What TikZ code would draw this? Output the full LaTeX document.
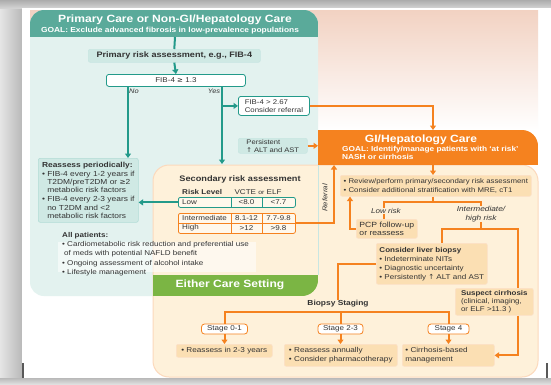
\documentclass[tikz,border=0pt]{standalone}
\usepackage{fontspec}
\setmainfont{Liberation Sans}[FakeStretch=1.15]
\newfontfamily\dv{DejaVu Sans}
\usetikzlibrary{arrows.meta}
\definecolor{tealhead}{HTML}{5AAA9A}
\definecolor{tealbody}{HTML}{E3F2EF}
\definecolor{tealline}{HTML}{239A8A}
\definecolor{tealbox}{HTML}{CFE9E4}
\definecolor{orhead}{HTML}{F5821F}
\definecolor{orline}{HTML}{F5821F}
\definecolor{orbody}{HTML}{FEF1DA}
\definecolor{orbox}{HTML}{FBDFB3}
\definecolor{greenband}{HTML}{7BB544}
\definecolor{peach}{HTML}{F2D2C2}
\definecolor{txt}{HTML}{333333}
\newcommand\fsz[2]{\fontsize{#1}{#2}\selectfont}
\tikzset{
  every node/.style={inner sep=0pt, text=txt},
  tl/.style={tealline, line width=2pt},
  ol/.style={orline, line width=2pt},
  tarr/.style={tl, -{Triangle[width=6pt,length=4.5pt]}},
  oarr/.style={ol, -{Triangle[width=6pt,length=4.5pt]}},
  tbox/.style={fill=tealbox, draw=tealline!25, line width=0.6pt, rounded corners=2pt, anchor=north west, inner xsep=3pt, align=left},
  wtbox/.style={fill=white, draw=tealline, line width=0.8pt, rounded corners=2.5pt, anchor=north west, inner xsep=3pt, align=left},
  obox/.style={fill=orbox, draw=orline!25, line width=0.6pt, rounded corners=2pt, anchor=north west, inner xsep=3pt, align=left},
  stbox/.style={fill=white, draw=orline, line width=0.8pt, rounded corners=3pt, minimum height=10pt, font=\fsz{7}{8}},
  wtitle/.style={text=white, font=\bfseries\fsz{10.5}{12}},
  cell/.style={font=\fsz{7}{8}}
}
\begin{document}
\begin{tikzpicture}[x=1pt,y=-1pt]
\useasboundingbox (0,0) rectangle (551,384);
% background and page
\fill[white] (0,0) rectangle (551,384);
\shade[left color=gray!20, right color=gray!55] (0,0) rectangle (22,384);
\shade[top color=gray!65, bottom color=gray!35] (0,0) rectangle (551,8);
\shade[top color=gray!55, bottom color=gray!25] (0,378) rectangle (551,384);
\fill[white] (22,8) rectangle (551,378);
\fill[gray!70!black] (22,363) rectangle (24,378);
\fill[gray!70!black] (546,363) rectangle (548,378);
% peach top
\shade[top color=peach, bottom color=white] (30,10) rectangle (538,130);
% teal panel
\fill[tealbody, rounded corners=14pt] (30,10) rectangle (318,296);
\begin{scope}
\clip[rounded corners=14pt] (30,10) rectangle (318,296);
\fill[tealhead] (30,10) rectangle (318,37);
\end{scope}
% orange body
\fill[orbody, draw=orline!30, line width=1pt, rounded corners=16pt] (153,165) rectangle (538,377);
\draw[tealline!25, line width=0.6pt] (318,165) -- (318,275);
\begin{scope}
\clip[rounded corners=16pt] (300,130) rectangle (538,400);
\fill[orhead] (318,130) rectangle (538,165);
\end{scope}
% green band
\begin{scope}
\clip[rounded corners=16pt] (100,200) rectangle (318,296);
\fill[greenband] (153,275) rectangle (318,296);
\end{scope}
% all patients backing
\fill[white, opacity=0.55] (58,242) rectangle (256,272);

% titles
\node[wtitle] (ptitle) at (175,20) {Primary Care or Non-GI/Hepatology Care};
\node[text=white, font=\bfseries\fsz{7.3}{8}] (pgoal) at (170,31) {GOAL: Exclude advanced fibrosis in low-prevalence populations};
\coordinate (phead) at (175,37);
\node[wtitle] (gtitle) at (421,140) {GI/Hepatology Care};
\node[text=white, font=\bfseries\fsz{7.2}{7.8}, anchor=north west, align=left] (ggoal) at (342,146) {GOAL: Identify/manage patients with ‘at risk’\\NASH or cirrhosis};
\node[text=white, font=\bfseries\fsz{10.5}{12}] (either) at (230,285) {Either Care Setting};

% primary care nodes
\node[tbox, minimum width=172pt, minimum height=13pt, font=\bfseries\fsz{7.9}{9}, align=center] (pra) at (88,49) {Primary risk assessment, e.g., FIB-4};
\node[wtbox, minimum width=139pt, minimum height=12pt, font=\fsz{7}{8}, align=center] (fib) at (106,74) {FIB-4 {\dv ≥} 1.3};
\node[font=\itshape\fsz{6.5}{8}] (nolab) at (134,91) {No};
\node[font=\itshape\fsz{6.5}{8}] (yeslab) at (214,91) {Yes};
\node[wtbox, minimum width=71pt, minimum height=19pt, font=\fsz{6.8}{8}] (refbox) at (238,96) {FIB-4 > 2.67\\Consider referral};
\node[tbox, minimum width=69pt, minimum height=15pt, font=\fsz{6.6}{7.8}] (pers) at (238,138) {Persistent\\{\dv ↑} ALT and AST};
\node[tbox, draw=tealline!35, minimum width=100pt, minimum height=64pt, font=\fsz{7.3}{8.2}] (reas) at (38,158) {\textbf{Reassess periodically:}\\[0.6pt]
• FIB-4 every 1-2 years if\\\hphantom{• }T2DM/preT2DM or {\dv ≥}2\\\hphantom{• }metabolic risk factors\\[0.8pt]
• FIB-4 every 2-3 years if\\\hphantom{• }no T2DM and <2\\\hphantom{• }metabolic risk factors};
\node[anchor=north west, align=left, font=\fsz{7}{8.6}] (allp) at (62,232) {\textbf{All patients:}\\[1pt]
• Cardiometabolic risk reduction and preferential use\\\hspace{2pt}of meds with potential NAFLD benefit\\[1pt]
• Ongoing assessment of alcohol intake\\[1pt]
• Lifestyle management};

% secondary risk table
\node[font=\bfseries\fsz{8}{9}] (sec) at (240,179) {Secondary risk assessment};
\node[font=\bfseries\fsz{7}{8}, anchor=west] (rl) at (182,192) {Risk Level};
\node[font=\fsz{7}{8}] (ve) at (258,192) {VCTE {\fsz{6}{7}or} ELF};
\node[draw=tealline, line width=0.8pt, fill=white!50!orbody, rounded corners=2pt, minimum width=117pt, minimum height=10pt, anchor=north west] (lowrow) at (178,197) {};
\node[draw=orline, line width=0.8pt, fill=white!50!orbody, rounded corners=2pt, minimum width=117pt, minimum height=20pt, anchor=north west] (hirow) at (178,213) {};
\draw[tealline, line width=0.6pt] (231,197) -- (231,207) (262,197) -- (262,207);
\draw[orline, line width=0.6pt] (231,213) -- (231,233) (262,213) -- (262,233) (178,223) -- (295,223);
\node[cell, anchor=west] (c11) at (182,202) {Low};
\node[cell] (c12) at (246.5,202) {<8.0};
\node[cell] (c13) at (278.5,202) {<7.7};
\node[cell, anchor=west] (c21) at (182,218) {Intermediate};
\node[cell] (c22) at (246.5,218) {8.1-12};
\node[cell, font=\fsz{6.8}{8}] (c23) at (278.5,218) {7.7-9.8};
\node[cell, anchor=west] (c31) at (182,228) {High};
\node[cell] (c32) at (246.5,228) {>12};
\node[cell] (c33) at (278.5,228) {>9.8};
\node[rotate=90, font=\itshape\fsz{6.8}{8}] (refl) at (325,198) {Referral};

% GI nodes
\node[obox, minimum width=191pt, minimum height=21pt, font=\fsz{6.8}{8.5}] (rev) at (340,175) {• Review/perform primary/secondary risk assessment\\• Consider additional stratification with MRE, cT1};
\node[font=\itshape\fsz{7}{8}] (lowlab) at (386,211) {Low risk};
\node[font=\itshape\fsz{7.2}{8.5}, align=center] (hilab) at (481,214) {Intermediate/\\high risk};
\node[obox, minimum width=61pt, minimum height=19pt, font=\fsz{7.5}{8.5}] (pcp) at (356,219) {PCP follow-up\\or reassess};
\node[obox, minimum width=111pt, minimum height=41pt, font=\fsz{7}{9}] (biop) at (376,243) {\textbf{Consider liver biopsy}\\• Indeterminate NITs\\• Diagnostic uncertainty\\• Persistently {\dv ↑} ALT and AST};
\node[obox, minimum width=78pt, minimum height=27pt, font=\fsz{6.9}{8}] (susp) at (455,288) {\textbf{Suspect cirrhosis}\\(clinical, imaging,\\or ELF >11.3 )};
\node[font=\bfseries\fsz{7.3}{8}] (bslab) at (338,304) {Biopsy Staging};
\node[stbox, minimum width=46pt] (st01) at (224.5,329) {Stage 0-1};
\node[stbox, minimum width=45pt] (st23) at (340.5,329) {Stage 2-3};
\node[stbox, minimum width=41pt] (st4) at (448.5,329) {Stage 4};
\node[obox, minimum width=96pt, minimum height=13pt, font=\fsz{7.1}{8}] (r1) at (176,344) {• Reassess in 2-3 years};
\node[obox, minimum width=113pt, minimum height=22pt, font=\fsz{7.1}{8.5}] (r2) at (284,344) {• Reassess annually\\• Consider pharmacotherapy};
\node[obox, text width=86pt, minimum height=22pt, font=\fsz{7.1}{8.5}] (r3) at (402,344) {• Cirrhosis-based\\management};

% teal connectors
\draw[tl] (phead) -- (pra.north);
\draw[tarr] (pra.south) -- (fib.north);
\coordinate (nox) at (128,0);
\coordinate (yesx) at (222,0);
\draw[tarr] (fib.south -| nox) -- (reas.north -| nox);
\coordinate (secin) at (222,164);
\draw[tarr] (fib.south -| yesx) -- (secin);
\draw[tarr] (yesx |- refbox.west) -- (refbox.west);
\draw[tarr] (lowrow.west) -- (lowrow.west -| reas.east);
% orange connectors
\coordinate (gitop) at (433,130);
\draw[oarr] (refbox.east) -| (gitop);
\coordinate (gileft) at (318,0);
\draw[oarr] (pers.east) -- (pers.east -| gileft);
\coordinate (refup) at (334,165);
\draw[oarr] (hirow.east) -| (refup);
\coordinate (gibot) at (433,165);
\draw[oarr] (gibot) -- (gibot |- rev.north);
\coordinate (split) at (433,202);
\coordinate (lowx) at (384,202);
\coordinate (hix) at (481,202);
\draw[ol] (rev.south -| split) -- (split);
\draw[ol] (lowx |- lowlab.north) -- (lowx) -- (hix) -- (hix |- hilab.north);
\draw[ol] (lowx |- lowlab.south) -- (lowx |- pcp.north);
\coordinate (pcpx) at (350,0);
\draw[oarr] (pcp.west) -| (pcpx |- rev.south);
\coordinate (bx) at (442,229);
\coordinate (cx) at (518,229);
\draw[ol] (hix |- hilab.south) -- (hix |- bx);
\draw[ol] (bx |- biop.north) -- (bx) -- (cx) -- (cx |- susp.north);
\draw[oarr] (cx |- susp.south) |- (r3.east);
\coordinate (bsx) at (338,0);
\draw[ol] (biop.west) -| (bsx |- bslab.north);
\coordinate (s1) at (224.5,312);
\coordinate (s2) at (340.5,312);
\coordinate (s3) at (448.5,312);
\draw[ol] (s1 |- st01.north) -- (s1) -- (s3) -- (s3 |- st4.north);
\draw[ol] (s2) -- (s2 |- st23.north);
\draw[oarr] (st01.south) -- (st01.south |- r1.north);
\draw[oarr] (st23.south) -- (st23.south |- r2.north);
\draw[oarr] (st4.south) -- (st4.south |- r3.north);
\end{tikzpicture}
\end{document}
